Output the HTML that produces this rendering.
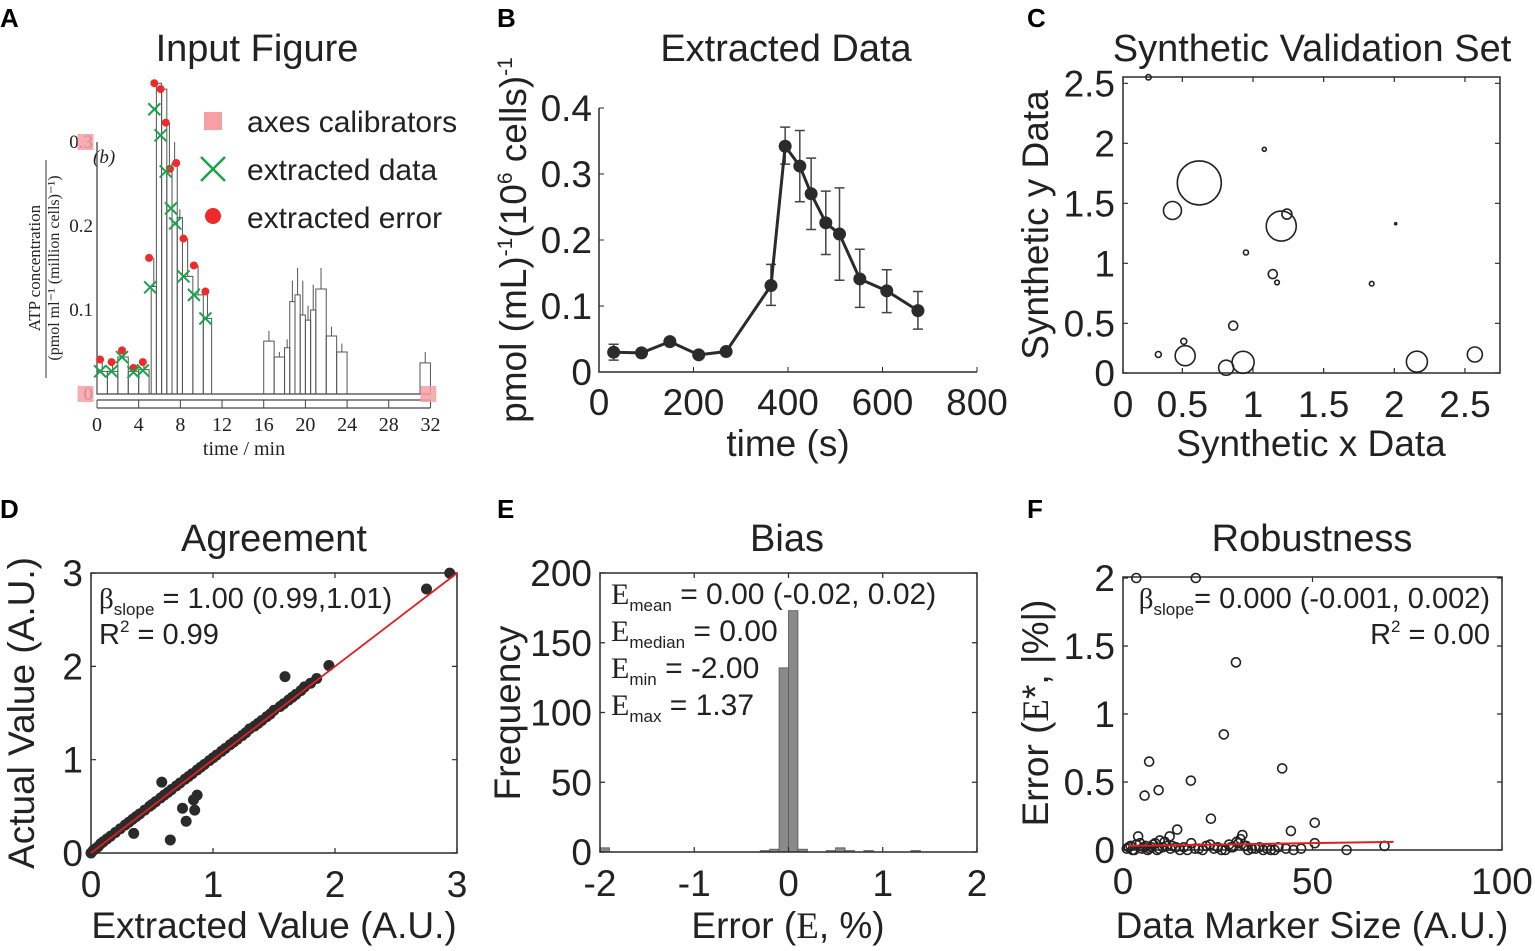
<!DOCTYPE html>
<html><head><meta charset="utf-8"><style>
body{margin:0;background:#fff;width:1535px;height:951px;overflow:hidden}
svg{display:block;font-family:"Liberation Sans",sans-serif;fill:#222}
.t{font-size:37px}
.ti{font-size:38px}
.pl{font-size:26px;font-weight:bold;fill:#000}
.ser{font-family:"Liberation Serif",serif}
</style></head><body>
<svg id="fig" width="1535" height="951" viewBox="0 0 1535 951">
<text class="pl" x="0" y="27">A</text>
<text class="pl" x="497" y="27">B</text>
<text class="pl" x="1027" y="27">C</text>
<text class="pl" x="0" y="518">D</text>
<text class="pl" x="497" y="518">E</text>
<text class="pl" x="1027" y="518">F</text>
<text class="ti" x="257" y="61" text-anchor="middle">Input Figure</text>
<text class="ti" x="786" y="61" text-anchor="middle">Extracted Data</text>
<text class="ti" x="1312" y="61" text-anchor="middle">Synthetic Validation Set</text>
<text class="ti" x="274" y="551" text-anchor="middle">Agreement</text>
<text class="ti" x="787" y="551" text-anchor="middle">Bias</text>
<text class="ti" x="1312" y="551" text-anchor="middle">Robustness</text>

<g class="ser">
<text x="40" y="268" font-size="17" text-anchor="middle" transform="rotate(-90 40 268)">ATP concentration</text>
<line x1="46" y1="160" x2="46" y2="378" stroke="#333" stroke-width="1"/>
<text x="59" y="268" font-size="16" text-anchor="middle" transform="rotate(-90 59 268)">(pmol ml⁻¹ (million cells)⁻¹)</text>
<text x="244" y="455" font-size="20" text-anchor="middle">time / min</text>
<text x="93" y="163" font-size="19" font-style="italic">(b)</text>
</g>
<g>
<rect x="204" y="112" width="18" height="18" fill="#f4a0a4"/>
<text x="247" y="132" font-size="30">axes calibrators</text>
<path d="M201 157 L225 181 M225 157 L201 181" stroke="#1aa34a" stroke-width="2.5"/>
<text x="247" y="180" font-size="30">extracted data</text>
<circle cx="213" cy="216" r="8" fill="#ee2a2a"/>
<text x="247" y="228" font-size="30">extracted error</text>
</g>

<text class="t" x="526" y="240" text-anchor="middle" transform="rotate(-90 526 240)">pmol (mL)<tspan font-size="21" dy="-14">-1</tspan><tspan dy="14">(10</tspan><tspan font-size="21" dy="-14">6</tspan><tspan dy="14"> cells)</tspan><tspan font-size="21" dy="-14">-1</tspan></text>
<text class="t" x="788" y="456" text-anchor="middle">time (s)</text>
<text class="t" x="1048" y="225" text-anchor="middle" transform="rotate(-90 1048 225)">Synthetic y Data</text>
<text class="t" x="1311" y="456" text-anchor="middle">Synthetic x Data</text>
<text class="t" x="34" y="713" text-anchor="middle" transform="rotate(-90 34 713)">Actual Value (A.U.)</text>
<text class="t" x="274" y="938" text-anchor="middle">Extracted Value (A.U.)</text>
<text class="t" x="520" y="713" text-anchor="middle" transform="rotate(-90 520 713)">Frequency</text>
<text class="t" x="788" y="938" text-anchor="middle">Error (<tspan class="ser">E</tspan>, %)</text>
<text class="t" x="1048" y="713" text-anchor="middle" transform="rotate(-90 1048 713)">Error (<tspan class="ser">E</tspan>*, |%|)</text>
<text class="t" x="1312" y="938" text-anchor="middle">Data Marker Size (A.U.)</text>

<g font-size="29">
<text x="99" y="608"><tspan class="ser">β</tspan><tspan font-size="17" dy="7">slope</tspan><tspan dy="-7"> = 1.00 (0.99,1.01)</tspan></text>
<text x="99" y="644">R<tspan font-size="17" dy="-12">2</tspan><tspan dy="12"> = 0.99</tspan></text>
</g>
<g font-size="30">
<text x="611" y="604"><tspan class="ser">E</tspan><tspan font-size="17" dy="7">mean</tspan><tspan dy="-7"> = 0.00 (-0.02, 0.02)</tspan></text>
<text x="611" y="641"><tspan class="ser">E</tspan><tspan font-size="17" dy="7">median</tspan><tspan dy="-7"> = 0.00</tspan></text>
<text x="611" y="678"><tspan class="ser">E</tspan><tspan font-size="17" dy="7">min</tspan><tspan dy="-7"> = -2.00</tspan></text>
<text x="611" y="715"><tspan class="ser">E</tspan><tspan font-size="17" dy="7">max</tspan><tspan dy="-7"> = 1.37</tspan></text>
</g>
<g font-size="29">
<text x="1490" y="608" text-anchor="end"><tspan class="ser">β</tspan><tspan font-size="17" dy="7">slope</tspan><tspan dy="-7">= 0.000 (-0.001, 0.002)</tspan></text>
<text x="1490" y="644" text-anchor="end">R<tspan font-size="17" dy="-12">2</tspan><tspan dy="12"> = 0.00</tspan></text>
</g>
<g id="marks"></g>
</svg>
<script>
// ---------- DATA ----------
const aBarStart = [0,1,2,3,4,5.2,5.7,6.2,6.7,7.2,7.7,8.2,9.2,10.2,16,17,18,18.5,19,19.5,20,20.5,21,22,23,31];
const aBarEnd   = [1,2,3,4,5,5.7,6.2,6.7,7.2,7.7,8.2,9.2,10.2,11,17,18,18.5,19,19.5,20,20.5,21,22,23,24,32];
const aBarHeight= [0.027,0.027,0.044,0.027,0.029,0.128,0.37,0.363,0.27,0.275,0.21,0.14,0.118,0.09,0.063,0.044,0.055,0.11,0.118,0.094,0.088,0.1,0.125,0.069,0.05,0.037];
const aBarErr   = [0.04,0.038,0.053,0.031,0.038,0.162,0.37,0.363,0.323,0.3,0.22,0.185,0.153,0.122,0.075,0.05,0.065,0.135,0.15,0.135,0.105,0.13,0.15,0.08,0.06,0.05];
const aXTicks = [0,4,8,12,16,20,24,28,32];
const aYTicks = [0,0.1,0.2,0.3];
const aYTickLabels = ["0","0.1","0.2","0.3"];
const aExtractX = [0.3,1.4,2.4,3.5,4.4,5.1,5.5,6.1,6.6,7.1,7.5,8.3,9.3,10.4];
const aExtractY = [0.027,0.027,0.044,0.026,0.028,0.127,0.339,0.308,0.265,0.221,0.203,0.14,0.118,0.09];
const aErrorX = [0.3,1.4,2.4,3.5,4.4,5.0,5.5,6.1,6.6,7.0,7.6,8.3,9.3,10.4];
const aErrorY = [0.041,0.038,0.052,0.031,0.038,0.162,0.37,0.363,0.323,0.268,0.275,0.185,0.153,0.122];
const bTime = [31,90,150,211,269,364,394,425,449,480,509,552,609,675];
const bValue= [0.030,0.029,0.046,0.026,0.031,0.131,0.342,0.312,0.270,0.226,0.209,0.141,0.123,0.093];
const bUpper= [0.042,0.029,0.046,0.026,0.031,0.163,0.371,0.366,0.324,0.274,0.279,0.186,0.155,0.122];
const bLower= [0.018,0.029,0.046,0.026,0.031,0.101,0.315,0.258,0.216,0.178,0.139,0.098,0.090,0.065];
const bXTicks=[0,200,400,600,800];
const bYTicks=[0,0.1,0.2,0.3,0.4];
const bYTickLabels=["0","0.1","0.2","0.3","0.4"];
const cX=[0.26,0.33,0.51,0.52,0.43,0.62,0.86,0.81,0.93,0.95,1.08,1.14,1.17,1.20,1.24,1.84,2.01,2.16,2.57];
const cY=[2.55,0.24,0.35,0.23,1.44,1.67,0.48,0.13,0.175,1.09,1.95,0.91,0.84,1.31,1.41,0.83,1.33,0.18,0.24];
const cSize=[2.7,3,3,10,9,22,4.5,7.5,11,2.5,2,4.5,2.3,15,5,2.3,1,10.5,7.5];
const cXTicks=[0,0.5,1,1.5,2,2.5];
const cXTickLabels=["0","0.5","1","1.5","2","2.5"];
const cYTicks=[0,0.5,1,1.5,2,2.5];
const cYTickLabels=["0","0.5","1","1.5","2","2.5"];
const dExtracted=[0,0.02,0.04,0.06,0.08,0.1,0.13,0.16,0.2,0.24,0.28,0.31,0.34,0.37,0.4,0.44,0.48,0.5,0.53,0.57,0.6,0.63,0.66,0.7,0.73,0.77,0.8,0.83,0.87,0.9,0.93,0.97,1.0,1.03,1.07,1.1,1.14,1.17,1.2,1.24,1.27,1.3,1.34,1.37,1.4,1.44,1.47,1.5,1.55,1.58,1.62,1.65,1.68,1.72,1.75,1.8,1.85,0.35,0.65,0.75,0.78,0.84,0.87,0.85,0.58,1.59,1.95,2.75,2.94];
const dActual=   [0,0.03,0.05,0.07,0.1,0.12,0.15,0.18,0.22,0.26,0.3,0.33,0.36,0.39,0.42,0.46,0.5,0.52,0.55,0.59,0.62,0.65,0.68,0.72,0.75,0.79,0.82,0.85,0.89,0.92,0.95,0.99,1.02,1.05,1.09,1.12,1.16,1.19,1.22,1.26,1.29,1.33,1.36,1.39,1.42,1.46,1.49,1.53,1.57,1.6,1.64,1.67,1.7,1.74,1.78,1.82,1.87,0.21,0.14,0.48,0.34,0.57,0.62,0.46,0.76,1.89,2.01,2.83,3.0];
const dFit=[0,3];
const dTicks=[0,1,2,3];
const eBinStart=[-2.0,-0.3,-0.2,-0.1,0.0,0.1,0.4,0.5,0.6,0.8,1.3];
const eCount=[3,1,2,132,173,2,1,3,1,1,1];
const eBinWidth=0.1;
const eXTicks=[-2,-1,0,1,2];
const eYTicks=[0,50,100,150,200];
const fSize=[3.5,19.2,29.8,26.6,6.9,17.9,42,9.4,5.7,23.2,50.6,14.3,44.3,31.5,4,12.3,9.7,50.6,59,69,
 1,2,3,4.5,5.5,7,8,9,10.5,11,12.5,13,15,16,18,19,21,22,24,25,27,28,29,30,31,32,33,34,36,37,38,40,41,43,45,47,
 1.5,2.5,3.5,5,6,6.5,7.5,8.5,9.5,11.5,14,17,20,23,26,28.5,30.5,32.5,35,39];
const fErr=[2.0,2.0,1.38,0.85,0.65,0.51,0.60,0.44,0.40,0.23,0.20,0.15,0.14,0.11,0.10,0.10,0.07,0.05,0.0,0.03,
 0.01,0.03,0.0,0.05,0.02,0.01,0.04,0.0,0.02,0.06,0.01,0.03,0.0,0.02,0.05,0.01,0.0,0.03,0.01,0.02,0.0,0.04,0.02,0.06,0.08,0.03,0.0,0.01,0.02,0.0,0.01,0.0,0.02,0.01,0.0,0.01,
 0.02,0.0,0.04,0.01,0.03,0.0,0.02,0.05,0.01,0.03,0.02,0.0,0.01,0.04,0.0,0.02,0.05,0.03,0.01,0.0];
const fFitX=[1.3,71.4];
const fFitY=[0.03,0.06];
const fXTicks=[0,50,100];
const fYTicks=[0,0.5,1,1.5,2];
const fYTickLabels=["0","0.5","1","1.5","2"];

// ---------- DRAW ----------
const NS="http://www.w3.org/2000/svg";
const root=document.getElementById('marks');
function mk(tag,attrs,parent){const e=document.createElementNS(NS,tag);for(const k in attrs)e.setAttribute(k,attrs[k]);(parent||root).appendChild(e);return e;}
function grp(){return mk('g',{});}
const DARK="#2b2b2b";

const aX=v=>97+v*10.42, aY=v=>394-v*840;
const gA=grp();


let e=mk('path',{d:`M${aX(0)} ${aY(0.3)} V${aY(0)} H${aX(32)}`,stroke:"#444",fill:"none","stroke-width":1.3},gA);


e=mk('path',{d:`M${aX(0)} 400 H${aX(32)} M${aX(0)} 408 H${aX(32)}`,stroke:"#444",fill:"none","stroke-width":1.2},gA);


for(let i=0;i<aBarStart.length;i++){
  const x0=aX(aBarStart[i]),x1=aX(aBarEnd[i]),y=aY(aBarHeight[i]);
  e=mk('path',{d:`M${x0} ${aY(0)} V${y} H${x1} V${aY(0)} M${(x0+x1)/2} ${y} V${aY(aBarErr[i])}`,stroke:"#555",fill:"none","stroke-width":1},gA);
  
  
}
aXTicks.forEach(t=>{
  e=mk('line',{x1:aX(t),x2:aX(t),y1:400,y2:408,stroke:"#444"},gA);
  
  
  e=mk('text',{x:aX(t),y:431,"font-size":20,"text-anchor":"middle","font-family":"Liberation Serif, serif"},gA);e.textContent=t;
  
  
});
aYTicks.forEach((t,i)=>{
  e=mk('text',{x:93,y:aY(t)+6,"font-size":19,"text-anchor":"end","font-family":"Liberation Serif, serif"},gA);e.textContent=aYTickLabels[i];
  
  
});
[[aX(-1.1),aY(0.3)],[aX(-1.1),aY(0)],[aX(31.8),aY(0)]].forEach(p=>{
  e=mk('rect',{x:p[0]-8,y:p[1]-8,width:16,height:16,fill:"#f4a0a4",opacity:0.85},gA);
  
  
});
for(let i=0;i<aErrorX.length;i++){
  e=mk('circle',{cx:aX(aErrorX[i]),cy:aY(aErrorY[i]),r:4,fill:"#ee2a2a"},gA);
  
  
}
for(let i=0;i<aExtractX.length;i++){
  const x=aX(aExtractX[i]),y=aY(aExtractY[i]);
  e=mk('path',{d:`M${x-6} ${y-6} L${x+6} ${y+6} M${x+6} ${y-6} L${x-6} ${y+6}`,stroke:"#1aa34a","stroke-width":2},gA);
  
  
}

const bX=v=>599+v*0.4725, bY=v=>372-v*660;
const gB=grp();


e=mk('path',{d:`M599 ${bY(0.4)} V372 H977`,stroke:DARK,fill:"none","stroke-width":1.5},gB);


bXTicks.forEach(t=>{
  e=mk('line',{x1:bX(t),x2:bX(t),y1:372,y2:367,stroke:DARK},gB);
  
  
  e=mk('text',{x:bX(t),y:415,class:"t","text-anchor":"middle"},gB);e.textContent=t;
  
  
});
bYTicks.forEach((t,i)=>{
  e=mk('line',{x1:599,x2:604,y1:bY(t),y2:bY(t),stroke:DARK},gB);
  
  
  e=mk('text',{x:592,y:bY(t)+13,class:"t","text-anchor":"end"},gB);e.textContent=bYTickLabels[i];
  
  
});
for(let i=0;i<bTime.length;i++){
  if(bUpper[i]-bLower[i]<0.002)continue;
  const x=bX(bTime[i]);
  e=mk('path',{d:`M${x} ${bY(bUpper[i])} V${bY(bLower[i])} M${x-5} ${bY(bUpper[i])} H${x+5} M${x-5} ${bY(bLower[i])} H${x+5}`,stroke:"#444","stroke-width":1.5,fill:"none"},gB);
  
  
}
e=mk('polyline',{points:bTime.map((t,i)=>bX(t)+','+bY(bValue[i])).join(' '),stroke:DARK,"stroke-width":3,fill:"none"},gB);


for(let i=0;i<bTime.length;i++){
  e=mk('circle',{cx:bX(bTime[i]),cy:bY(bValue[i]),r:6.5,fill:DARK},gB);
  
  
}

function box(g,l,r,t,b,name){
  e=mk('rect',{x:l,y:t,width:r-l,height:b-t,fill:"none",stroke:DARK,"stroke-width":1.5},g);
  
  
}
function xticks(g,arr,labels,fx,l,r,t,b,prefix){
  arr.forEach((v,i)=>{
    const x=Math.max(l,Math.min(r,fx(v)));
    e=mk('path',{d:`M${x} ${b} V${b-5} M${x} ${t} V${t+5}`,stroke:DARK,"stroke-width":1.2},g);
    
    
    e=mk('text',{x:x,y:b+44,class:"t","text-anchor":"middle"},g);e.textContent=labels[i];
    
    
  });
}
function yticks(g,arr,labels,fy,l,r,t,b,prefix){
  arr.forEach((v,i)=>{
    const y=Math.max(t,Math.min(b,fy(v)));
    e=mk('path',{d:`M${l} ${y} H${l+5} M${r} ${y} H${r-5}`,stroke:DARK,"stroke-width":1.2},g);
    
    
    e=mk('text',{x:l-8,y:y+13,class:"t","text-anchor":"end"},g);e.textContent=labels[i];
    
    
  });
}

const cXs=v=>1111.7+v*141.3, cYs=v=>383.3-v*120;
const gC=grp();


box(gC,1123,1500,77,373,'c-axes-box');
xticks(gC,cXTicks,cXTickLabels,cXs,1123,1500,77,373,'c');
yticks(gC,cYTicks,cYTickLabels,cYs,1123,1500,77,373,'c');
for(let i=0;i<cX.length;i++){
  e=mk('circle',{cx:cXs(cX[i]),cy:cYs(cY[i]),r:cSize[i],fill:"none",stroke:"#222","stroke-width":1.6},gC);
  
  
}

const dX=v=>91+v*122, dY=v=>853-v*93.3;
const gD=grp();


box(gD,91,457,573,853,'d-axes-box');
xticks(gD,dTicks,dTicks.map(String),dX,91,457,573,853,'d');
yticks(gD,dTicks,dTicks.map(String),dY,91,457,573,853,'d');
for(let i=0;i<dExtracted.length;i++){
  e=mk('circle',{cx:dX(dExtracted[i]),cy:dY(dActual[i]),r:5.5,fill:DARK},gD);
  
  
}
e=mk('line',{x1:dX(dFit[0]),y1:dY(dFit[0]),x2:dX(dFit[1]),y2:dY(dFit[1]),stroke:"#e02020","stroke-width":1.8},gD);



const eX=v=>788.5+v*94.25, eY=v=>852-v*1.395;
const gE=grp();


for(let i=0;i<eBinStart.length;i++){
  const x0=eX(eBinStart[i]),x1=eX(eBinStart[i]+eBinWidth);
  e=mk('rect',{x:x0,y:eY(eCount[i]),width:x1-x0,height:eY(0)-eY(eCount[i]),fill:"#8a8a8a",stroke:"#555","stroke-width":0.8},gE);
  
  
}
box(gE,600,977,573,852,'e-axes-box');
xticks(gE,eXTicks,eXTicks.map(String),eX,600,977,573,852,'e');
yticks(gE,eYTicks,eYTicks.map(String),eY,600,977,573,852,'e');

const fX=v=>1123+v*3.79, fY=v=>850-v*136;
const gF=grp();


box(gF,1123,1502,577,850,'f-axes-box');
xticks(gF,fXTicks,fXTicks.map(String),fX,1123,1502,577,850,'f');
yticks(gF,fYTicks,fYTickLabels,fY,1123,1502,577,850,'f');
for(let i=0;i<fSize.length;i++){
  e=mk('circle',{cx:fX(fSize[i]),cy:fY(fErr[i]),r:4.5,fill:"none",stroke:"#222","stroke-width":1.6},gF);
  
  
}
e=mk('line',{x1:fX(fFitX[0]),y1:fY(fFitY[0]),x2:fX(fFitX[1]),y2:fY(fFitY[1]),stroke:"#e02020","stroke-width":2},gF);


</script>
</body></html>
